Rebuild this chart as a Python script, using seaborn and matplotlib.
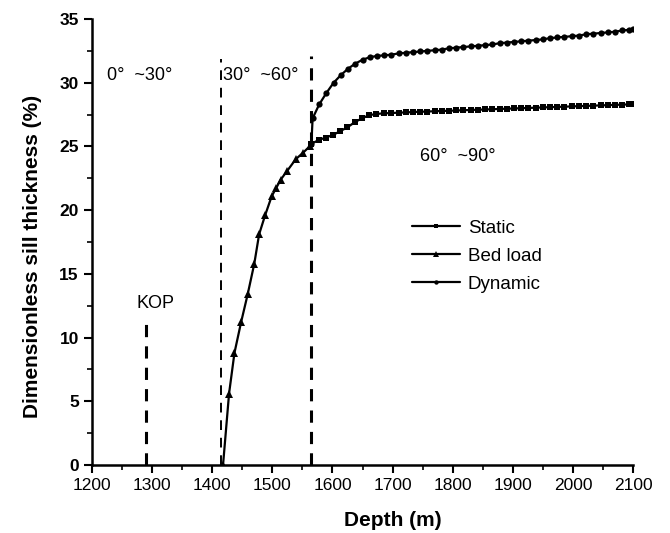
import matplotlib
matplotlib.use("Agg")
import matplotlib.pyplot as plt
import seaborn as sns
import pandas as pd
from matplotlib.ticker import MultipleLocator

# ---- data ----
bed_depth = [1418, 1428, 1437, 1448, 1459, 1470, 1478, 1488, 1499, 1506,
             1514, 1525, 1539, 1551, 1562]
bed_thick = [0.0, 5.6, 8.8, 11.2, 13.4, 15.8, 18.1, 19.6, 21.1, 21.7,
             22.4, 23.1, 24.0, 24.5, 25.0]

static_depth = [1565, 1577, 1589, 1601, 1613, 1625, 1637, 1649, 1661, 1673,
                1686, 1698, 1710, 1722, 1734, 1746, 1758, 1770, 1782, 1794,
                1806, 1818, 1830, 1842, 1854, 1866, 1878, 1890, 1902, 1914,
                1926, 1938, 1950, 1962, 1974, 1986, 1998, 2010, 2022, 2034,
                2046, 2058, 2070, 2082, 2094, 2100]
static_thick = [25.2, 25.5, 25.7, 25.9, 26.2, 26.5, 26.9, 27.2, 27.45, 27.55,
                27.6, 27.62, 27.65, 27.67, 27.7, 27.72, 27.74, 27.76, 27.78, 27.8,
                27.82, 27.84, 27.86, 27.88, 27.9, 27.92, 27.94, 27.96, 27.98, 28.0,
                28.02, 28.04, 28.06, 28.08, 28.1, 28.12, 28.14, 28.16, 28.18, 28.2,
                28.22, 28.24, 28.26, 28.28, 28.3, 28.3]

dyn_depth = [1565, 1567, 1578, 1590, 1602, 1614, 1626, 1638, 1650, 1662,
             1674, 1686, 1698, 1710, 1722, 1734, 1746, 1758, 1770, 1782,
             1794, 1806, 1818, 1830, 1842, 1854, 1866, 1878, 1890, 1902,
             1914, 1926, 1938, 1950, 1962, 1974, 1986, 1998, 2010, 2022,
             2034, 2046, 2058, 2070, 2082, 2094, 2100]
dyn_thick = [25.2, 27.2, 28.3, 29.2, 30.0, 30.6, 31.1, 31.5, 31.8, 32.0,
             32.1, 32.15, 32.2, 32.3, 32.35, 32.4, 32.45, 32.5, 32.55, 32.6,
             32.7, 32.75, 32.8, 32.85, 32.9, 32.95, 33.0, 33.1, 33.15, 33.2,
             33.25, 33.3, 33.35, 33.4, 33.5, 33.55, 33.6, 33.65, 33.7, 33.8,
             33.85, 33.9, 33.95, 34.0, 34.1, 34.15, 34.2]

series_names = ["Static", "Bed load", "Dynamic"]

# vertical marker lines: (depth, top value)
kop_depth, kop_top = 1290, 11.2
zone_depths = [1415, 1565]
zone_tops = [31.9, 32.1]

zone_labels = ["0°  ~30°", "30°  ~60°", "60°  ~90°"]
x_ticks = [1200, 1300, 1400, 1500, 1600, 1700, 1800, 1900, 2000, 2100]
y_ticks = [0, 5, 10, 15, 20, 25, 30, 35]

# ---- plotting ----
sns.set_style("ticks")
plt.rcParams['font.family'] = ['Liberation Sans', 'DejaVu Sans']
plt.rcParams['text.color'] = 'black'
plt.rcParams['axes.labelcolor'] = 'black'

fig = plt.figure(figsize=(6.7, 5.33), dpi=100)
ax = fig.add_axes([92/670, 1 - 465/533, (633-92)/670, (465-19)/533])

df_s = pd.DataFrame({"Depth": static_depth, "Thick": static_thick})
df_b = pd.DataFrame({"Depth": bed_depth, "Thick": bed_thick})
df_d = pd.DataFrame({"Depth": dyn_depth, "Thick": dyn_thick})

sns.lineplot(data=df_s, x="Depth", y="Thick", ax=ax, color="black", lw=1.6,
             marker="s", markersize=4.5, markeredgewidth=0, label=series_names[0])
sns.lineplot(data=df_b, x="Depth", y="Thick", ax=ax, color="black", lw=1.6,
             marker="^", markersize=5.5, markeredgewidth=0, label=series_names[1])
sns.lineplot(data=df_d, x="Depth", y="Thick", ax=ax, color="black", lw=1.6,
             marker="o", markersize=4.5, markeredgewidth=0, label=series_names[2])

ax.plot([kop_depth, kop_depth], [0, kop_top], color="black", lw=2.2,
        dashes=(4, 3))
ax.plot([zone_depths[0]] * 2, [0, zone_tops[0]], color="black", lw=1.4,
        dashes=(5, 4))
ax.plot([zone_depths[1]] * 2, [0, zone_tops[1]], color="black", lw=2.2,
        dashes=(4, 3))

ax.text(1225, 30.6, zone_labels[0], fontsize=13, va="center", ha="left")
ax.text(1418, 30.6, zone_labels[1], fontsize=13, va="center", ha="left")
ax.text(1745, 24.2, zone_labels[2], fontsize=13, va="center", ha="left")
ax.text(1305, 12.7, "KOP", fontsize=13, va="center", ha="center")

ax.set_xlim(1200, 2100)
ax.set_ylim(0, 35)
ax.set_xticks(x_ticks)
ax.set_yticks(y_ticks)
ax.xaxis.set_minor_locator(MultipleLocator(50))
ax.yaxis.set_minor_locator(MultipleLocator(2.5))
ax.tick_params(which="major", direction="out", length=6, width=1.5,
               labelsize=12.5, colors="black")
ax.tick_params(which="minor", direction="out", length=3.5, width=1.2,
               colors="black")
for lab in ax.get_yticklabels():
    lab.set_fontweight("bold")

for side in ["top", "right"]:
    ax.spines[side].set_visible(False)
for side in ["left", "bottom"]:
    ax.spines[side].set_linewidth(1.8)
    ax.spines[side].set_color("black")

ax.set_xlabel("Depth (m)", fontsize=15, fontweight="bold")
ax.set_ylabel("Dimensionless sill thickness (%)", fontsize=15, fontweight="bold")
ax.xaxis.set_label_coords((393-92)/541, -0.103)
ax.yaxis.set_label_coords(-0.092, 0.467)

leg = ax.legend(loc="upper left", bbox_to_anchor=(0.591, 0.55), frameon=False,
                fontsize=13.5, handlelength=2.6, handletextpad=0.4,
                labelspacing=0.58, borderpad=0, borderaxespad=0, markerscale=0.7)

fig.savefig("out.png", dpi=100)
